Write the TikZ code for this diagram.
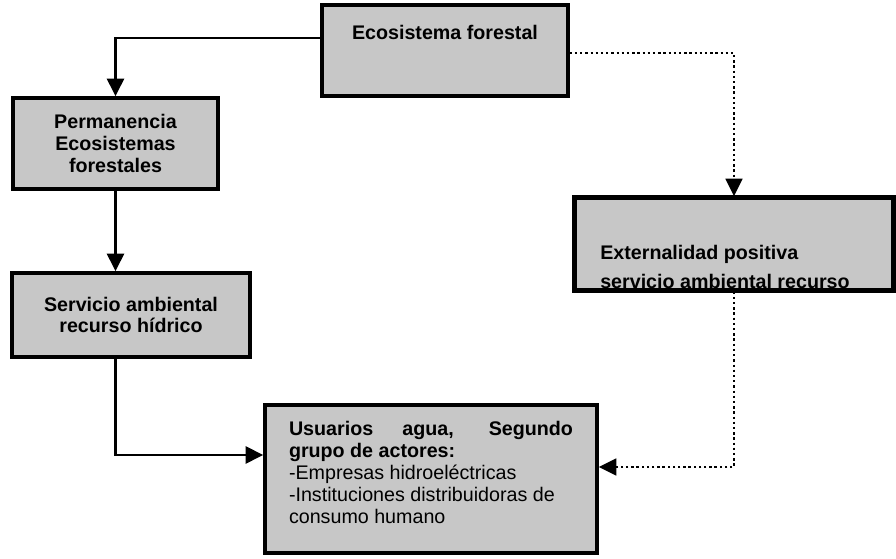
\documentclass[tikz,border=0pt]{standalone}
\usepackage{fontspec}
\setmainfont{Liberation Sans}
\usepackage{tikz}
\usetikzlibrary{arrows.meta}

\begin{document}
\begin{tikzpicture}[
	box/.style = {draw = black,
				  line width = 2.4pt,
				  fill = black!22,
				  inner sep = 0pt,
				  font = \fontsize{14}{15.5}\selectfont\bfseries},
	arr/.style = {line width = 2pt, -{Triangle[length = 4.4mm, width = 4.2mm]}},
	dotarr/.style = {line width = 1.7pt, dotted, -{Triangle[length = 4.4mm, width = 4.2mm]}}
]
	\useasboundingbox (0,0) rectangle (22.4,13.975);

	% cajas
	\draw (11.125,12.7125) node[box,
					 minimum width = 6.15cm,
					 text height = 0.8625cm,
					 text depth = 1.4125cm](eco) {Ecosistema forestal};
	\draw (2.8875,10.3875) node[box,
					 minimum width = 5.125cm,
					 minimum height = 2.275cm,
					 align = center](perm) {Permanencia\\Ecosistemas\\forestales};
	\draw (3.275,6.1) node[box,
					 minimum width = 5.95cm,
					 minimum height = 2.1cm,
					 align = center](serv) {Servicio ambiental\\recurso hídrico};
	\draw (18.35,7.875) node[box,
					 minimum width = 7.95cm,
					 minimum height = 2.3cm](ext) {};
	\begin{scope}
		\clip (ext.south west) rectangle (ext.north east);
		\draw (15.0,6.76) node[anchor = base west,
					 align = left,
					 inner sep = 0pt,
					 font = \fontsize{14}{15.5}\selectfont\bfseries](exttxt) {Externalidad positiva\\[5pt]servicio ambiental recurso};
	\end{scope}
	\draw[line width = 2.4pt] (ext.south west) rectangle (ext.north east);
	\draw (10.775,2.0) node[box,
					 minimum width = 8.3cm,
					 text width = 7.1cm,
					 align = justify,
					 text height = 0.775cm,
					 text depth = 2.925cm](usu) {Usuarios agua, Segundo\linebreak grupo de actores:\\
					 \mdseries -Empresas hidroeléctricas\\-Instituciones distribuidoras de\\consumo humano};

	% flechas
	\draw[arr] ([yshift = 0.3125cm]eco.west) -| (perm.north);
	\draw[arr] (perm.south) -- (perm.south |- serv.north);
	\draw[arr] (perm.south |- serv.south) |- ([yshift = 0.6cm]usu.west);
	\draw[dotarr] ([yshift = -0.06cm]eco.east) -| (ext.north);
	\draw[dotarr] (ext.south) |- ([yshift = 0.3cm]usu.east);

\end{tikzpicture}
\end{document}
